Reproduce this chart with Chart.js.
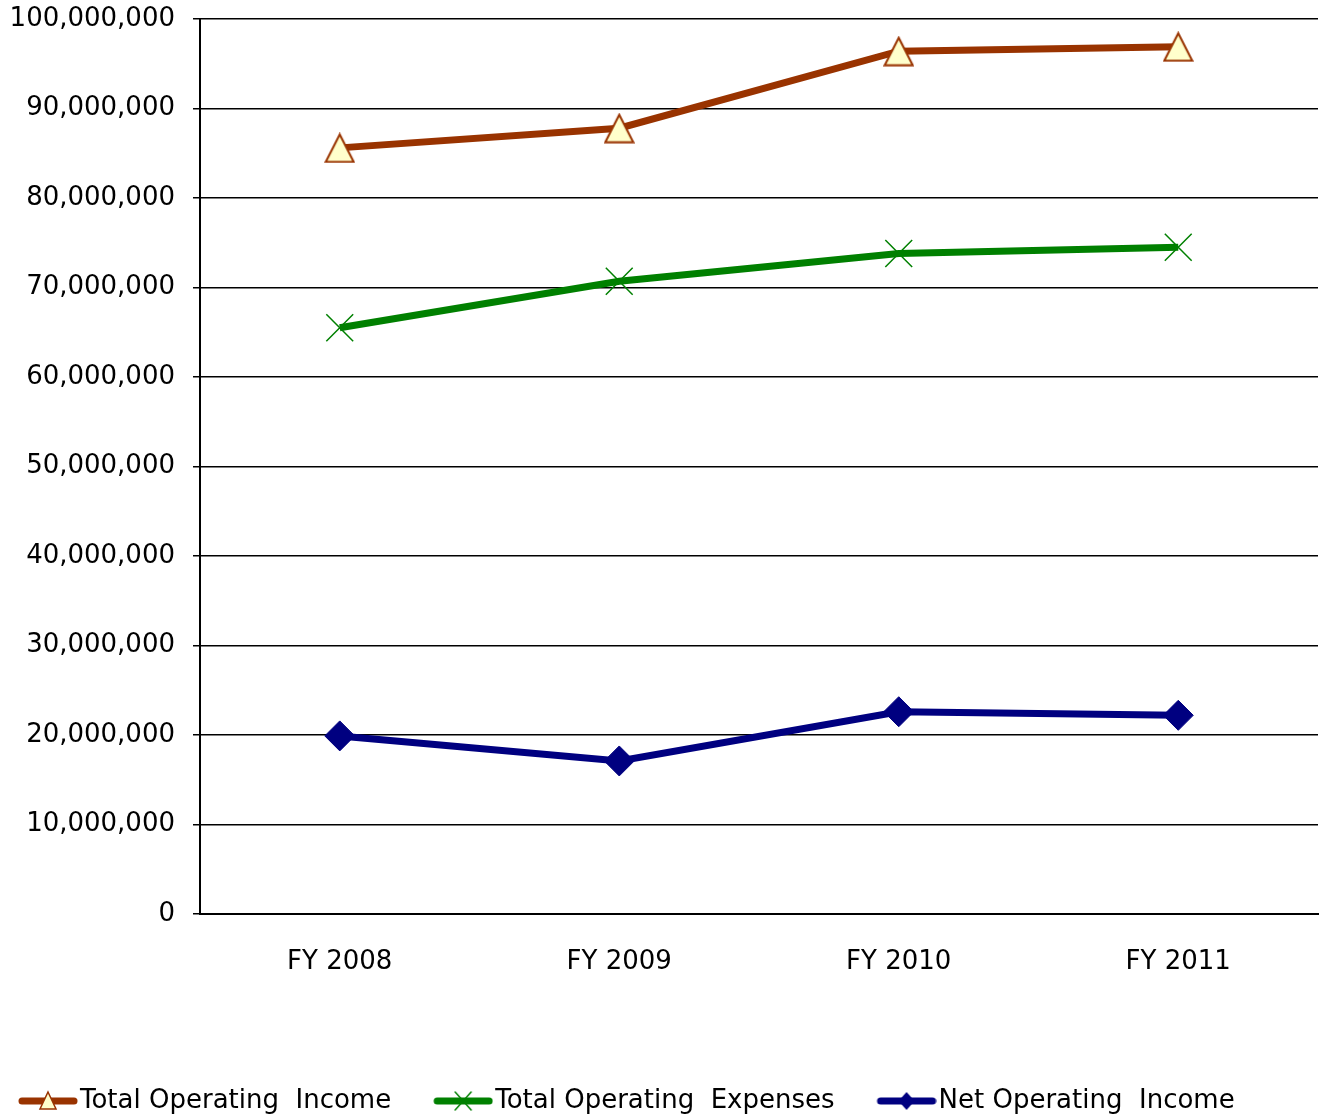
<!DOCTYPE html>
<html lang="en">
<head>
    <meta charset="UTF-8">
    <title>Operating Income and Expenses</title>
    <style>
        html, body { margin: 0; padding: 0; background: #ffffff; overflow: hidden; }
        #wrap { width: 1319px; height: 1118px; }
        canvas { display: block; }
    </style>
</head>
<body>
    <div id="wrap"><canvas id="lineChart"></canvas></div>

    <script src="https://cdn.jsdelivr.net/npm/chart.js"></script>
    <script>
        // data
        const years = ['FY 2008', 'FY 2009', 'FY 2010', 'FY 2011'];
        const totalIncome = [85600000, 87800000, 96400000, 96900000];
        const totalExpenses = [65500000, 70700000, 73800000, 74500000];
        const netIncome = [19900000, 17100000, 22600000, 22200000];
        const seriesNames = ['Total Operating  Income', 'Total Operating  Expenses', 'Net Operating  Income'];

        const FONT = "'DejaVu Sans', Verdana, sans-serif";
        const BOX_W = 81;   // legend box width
        const PAD = 10;     // legend padding

        // legend sample: thick line with the marker in the middle, sitting at the right of the box
        function legendSample(color, style, fill) {
            const c = document.createElement('canvas');
            c.width = BOX_W + 22; c.height = 28;
            const g = c.getContext('2d');
            const x0 = c.width - 60, cx = c.width - 30, cy = 14;
            g.strokeStyle = color;
            g.lineWidth = 7;
            g.lineCap = 'round';
            g.beginPath(); g.moveTo(x0 + 4, cy); g.lineTo(c.width - 4, cy); g.stroke();
            g.lineWidth = 1.5;
            g.fillStyle = fill;
            g.beginPath();
            if (style === 'triangle') {
                g.moveTo(cx, cy - 9); g.lineTo(cx + 8, cy + 8); g.lineTo(cx - 8, cy + 8); g.closePath();
                g.fill(); g.stroke();
            } else if (style === 'cross') {
                g.moveTo(cx - 8, cy - 9); g.lineTo(cx + 8, cy + 9); g.moveTo(cx + 8, cy - 9); g.lineTo(cx - 8, cy + 9);
                g.stroke();
            } else {
                g.moveTo(cx, cy - 9); g.lineTo(cx + 8, cy); g.lineTo(cx, cy + 9); g.lineTo(cx - 8, cy); g.closePath();
                g.fill();
            }
            return c;
        }

        // triangle marker centred on its box, like the original
        function triangleMarker() {
            const c = document.createElement('canvas');
            c.width = 31; c.height = 31;
            const g = c.getContext('2d');
            g.fillStyle = '#FFFFCC';
            g.strokeStyle = '#993300';
            g.lineWidth = 2;
            g.beginPath();
            g.moveTo(15.5, 2); g.lineTo(29.5, 29.5); g.lineTo(1.5, 29.5); g.closePath();
            g.fill(); g.stroke();
            return c;
        }

        const samples = [
            legendSample('#993300', 'triangle', '#FFFFCC'),
            legendSample('#008000', 'cross', '#008000'),
            legendSample('#000080', 'diamond', '#000080')
        ];

        // nudge the legend left and down, like the original
        const legendShift = {
            id: 'legendShift',
            afterLayout(chart) {
                chart.legend.left -= 24;
                chart.legend.right -= 24;
                chart.legend.top += 10;
                chart.legend.bottom += 10;
            }
        };

        new Chart(document.getElementById('lineChart'), {
            type: 'line',
            data: {
                labels: years,
                datasets: [{
                    label: seriesNames[0],
                    data: totalIncome,
                    borderColor: '#993300',
                    borderWidth: 7,
                    pointStyle: triangleMarker(),
                    pointRadius: 15
                }, {
                    label: seriesNames[1],
                    data: totalExpenses,
                    borderColor: '#008000',
                    borderWidth: 7,
                    pointStyle: 'crossRot',
                    pointRadius: 19,
                    pointBorderColor: '#008000',
                    pointBorderWidth: 1.5
                }, {
                    label: seriesNames[2],
                    data: netIncome,
                    borderColor: '#000080',
                    borderWidth: 7,
                    pointStyle: 'rectRot',
                    pointRadius: 15,
                    pointBackgroundColor: '#000080',
                    pointBorderColor: '#000080',
                    pointBorderWidth: 1
                }]
            },
            options: {
                responsive: true,
                maintainAspectRatio: false,
                animation: false,
                layout: { autoPadding: false, padding: { top: 19, right: 1, left: 0, bottom: 4 } },
                plugins: {
                    tooltip: { enabled: false },
                    legend: {
                        position: 'bottom',
                        align: 'start',
                        labels: {
                            font: { family: FONT, size: 26 },
                            color: '#000000',
                            usePointStyle: true,
                            pointStyleWidth: BOX_W,
                            padding: PAD,
                            generateLabels: function (chart) {
                                return chart.data.datasets.map((ds, i) => ({
                                    text: ds.label,
                                    pointStyle: samples[i],
                                    fillStyle: ds.borderColor,
                                    strokeStyle: ds.borderColor,
                                    lineWidth: 0,
                                    fontColor: '#000000',
                                    datasetIndex: i,
                                    hidden: false
                                }));
                            }
                        }
                    }
                },
                scales: {
                    x: {
                        offset: true,
                        grid: { display: false },
                        border: { display: true, color: '#000000', width: 2 },
                        ticks: {
                            color: '#000000',
                            font: { family: FONT, size: 26 },
                            padding: 25
                        },
                        afterFit: function (scale) { scale.height = 154; }
                    },
                    y: {
                        min: 0,
                        max: 100000000,
                        grid: { color: '#000000', lineWidth: 1.5, tickLength: 7 },
                        border: { display: true, color: '#000000', width: 2 },
                        ticks: {
                            stepSize: 10000000,
                            color: '#000000',
                            font: { family: FONT, size: 26 },
                            padding: 18,
                            callback: v => v.toLocaleString('en-US')
                        },
                        afterFit: function (scale) {
                            scale.width = 200;
                            scale.paddingTop = 0;
                        }
                    }
                }
            },
            plugins: [legendShift]
        });
    </script>
</body>
</html>
